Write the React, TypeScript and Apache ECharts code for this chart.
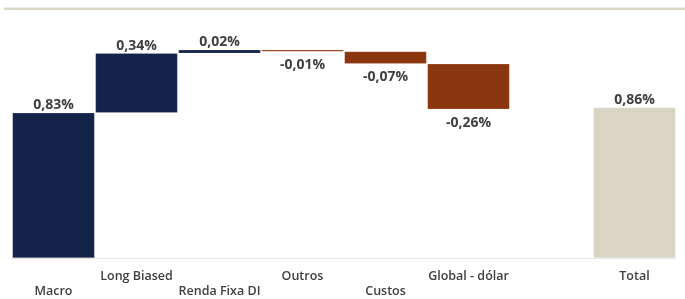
import React, { useEffect, useRef } from "react";
import * as echarts from "echarts";

const categories = ["Macro", "Long Biased", "Renda Fixa DI", "Outros", "Custos", "Global - dólar", "", "Total"];
const contributions = [0.83, 0.34, 0.02, -0.01, -0.07, -0.26];
const totalValue = 0.86;

const NAVY = "#13234a";
const BROWN = "#8a360f";
const TOTAL = "#d8d5c4";

const fmt = (v: number) => v.toFixed(2).replace(".", ",") + "%";

export default function App() {
  const ref = useRef<HTMLDivElement>(null);
  useEffect(() => {
    if (!ref.current) return;
    const chart = echarts.init(ref.current, undefined, { renderer: "svg" });

    const base: (number | string)[] = [];
    const delta: any[] = [];
    let cum = 0;
    contributions.forEach((v) => {
      const pos = v >= 0;
      base.push(pos ? cum : cum + v);
      delta.push({
        value: Math.abs(v),
        raw: v,
        itemStyle: { color: pos ? NAVY : BROWN },
        label: { position: pos ? "top" : "bottom", distance: pos ? 2 : 5 },
      });
      cum += v;
    });
    base.push("-");
    delta.push("-");
    base.push(0);
    delta.push({
      value: totalValue,
      raw: totalValue,
      itemStyle: { color: TOTAL },
      label: { position: "top", distance: 2 },
    });

    const txt = {
      fontFamily: "Open Sans",
      fontWeight: 600,
      fontSize: 12.5,
      color: "#404040",
      lineHeight: 13,
    };

    chart.setOption({
      animation: false,
      grid: { left: 12, right: 9, top: 48, bottom: 41, containLabel: false, outerBoundsMode: "none" },
      xAxis: {
        type: "category",
        data: categories,
        axisLine: { show: true, lineStyle: { color: "#e6e6e6", width: 1 } },
        axisTick: { show: false },
        axisLabel: {
          interval: 0,
          margin: 10.5,
          ...txt,
          rich: {
            t: { ...txt },
            gap: { ...txt, lineHeight: 15.5 },
          },
          formatter: (v: string, i: number) => {
            if (!v) return "";
            return i % 2 === 0 ? "{gap| }\n{t|" + v + "}" : "{t|" + v + "}";
          },
        },
      },
      yAxis: { type: "value", min: 0, max: 1.2, show: false, splitLine: { show: false } },
      graphic: [
        {
          type: "rect",
          shape: { x: 4, y: 7.5, width: 685, height: 2.5 },
          style: { fill: "#dad7c6" },
        },
      ],
      series: [
        {
          type: "bar",
          stack: "w",
          data: base,
          itemStyle: { color: "transparent" },
          barCategoryGap: "1%",
          silent: true,
        },
        {
          type: "bar",
          stack: "w",
          data: delta,
          barCategoryGap: "1%",
          itemStyle: { borderColor: "rgba(255,255,255,0.35)", borderWidth: 0.5 },
          label: {
            show: true,
            fontFamily: "Open Sans",
            fontWeight: 700,
            fontSize: 14,
            color: "#404040",
            formatter: (p: any) => fmt(p.data.raw),
          },
        },
      ],
    });
    return () => chart.dispose();
  }, []);
  return <div ref={ref} style={{ position: "fixed", left: 0, top: 0, width: 685, height: 299 }} />;
}
